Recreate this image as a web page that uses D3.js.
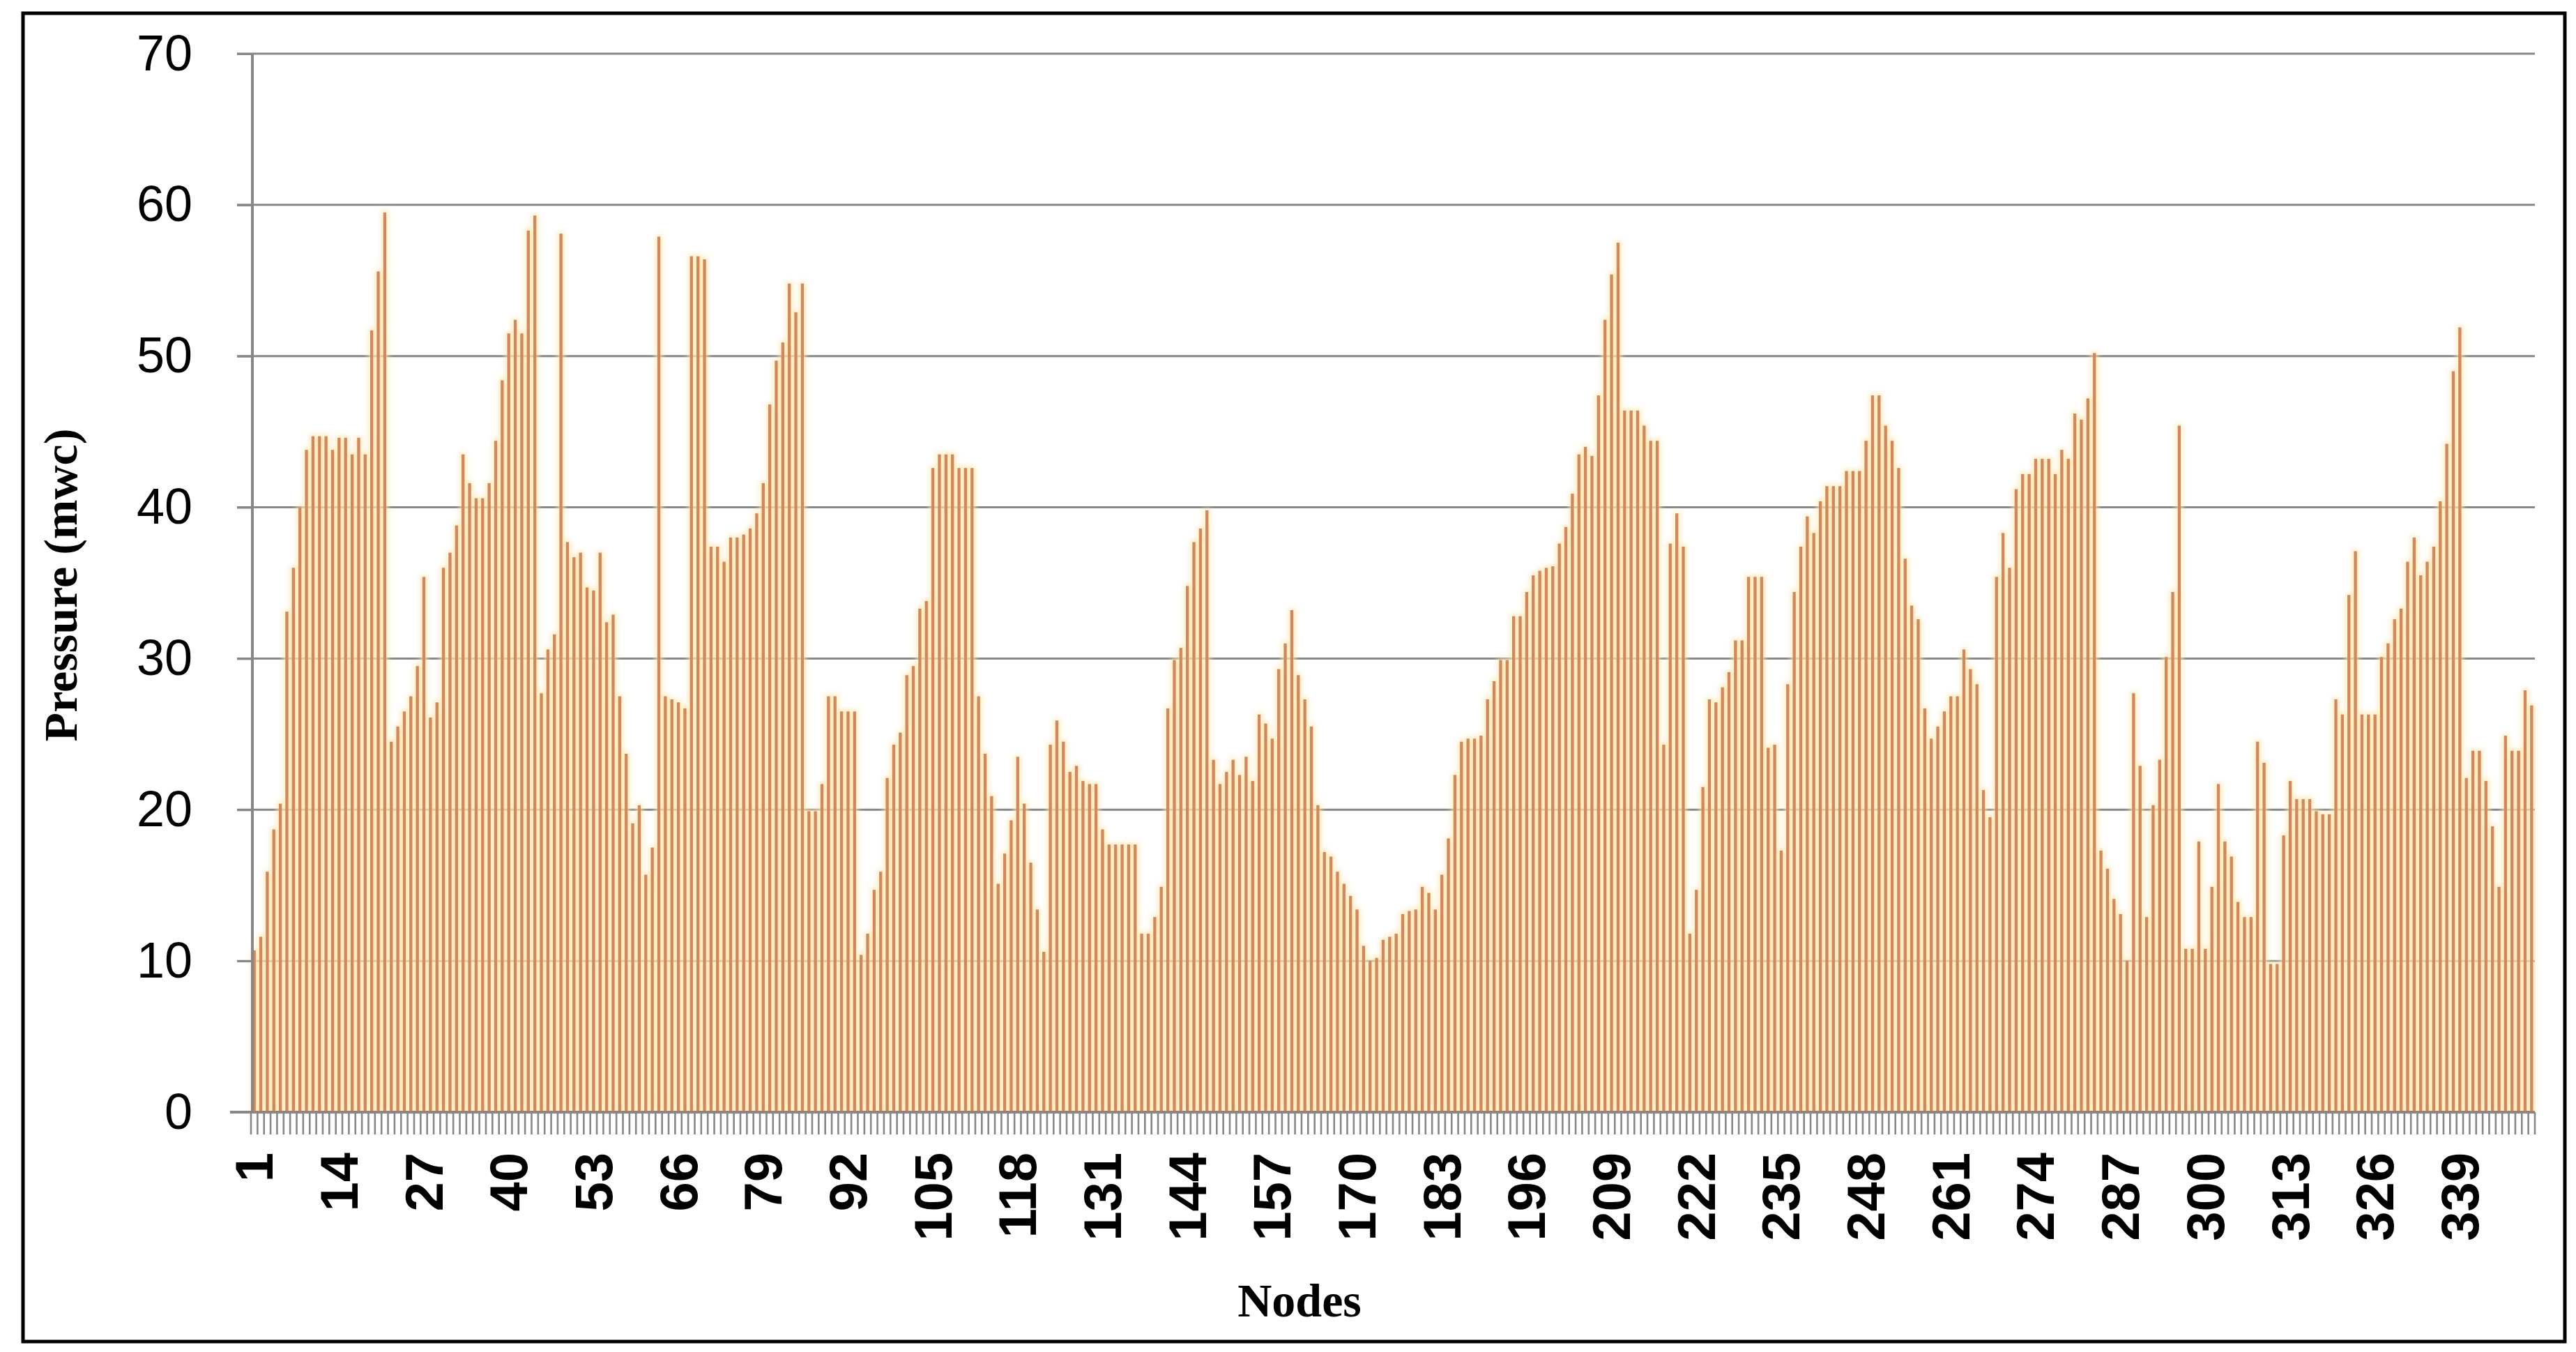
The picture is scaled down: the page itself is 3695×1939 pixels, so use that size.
<!DOCTYPE html>
<html>
<head>
<meta charset="utf-8">
<script src="https://cdn.jsdelivr.net/npm/d3@7"></script>
<style>
  html, body { margin: 0; padding: 0; background: #ffffff; }
  svg { display: block; }
</style>
</head>
<body>
<script>
// ---------- DATA ----------
const nodes = d3.range(1, 351);   // node numbers 1..350
const pressure = [
  10.7, 11.6, 15.9, 18.7, 20.4, 33.1, 36.0, 40.0, 43.8, 44.7,
  44.7, 44.7, 43.8, 44.6, 44.6, 43.5, 44.6, 43.5, 51.7, 55.6,
  59.5, 24.5, 25.5, 26.5, 27.5, 29.5, 35.4, 26.1, 27.1, 36.0,
  37.0, 38.8, 43.5, 41.6, 40.6, 40.6, 41.6, 44.4, 48.4, 51.5,
  52.4, 51.5, 58.3, 59.3, 27.7, 30.6, 31.6, 58.1, 37.7, 36.7,
  37.0, 34.7, 34.5, 37.0, 32.4, 32.9, 27.5, 23.7, 19.1, 20.3,
  15.7, 17.5, 57.9, 27.5, 27.3, 27.1, 26.7, 56.6, 56.6, 56.4,
  37.4, 37.4, 36.4, 38.0, 38.0, 38.2, 38.6, 39.6, 41.6, 46.8,
  49.7, 50.9, 54.8, 52.9, 54.8, 19.9, 19.9, 21.7, 27.5, 27.5,
  26.5, 26.5, 26.5, 10.4, 11.8, 14.7, 15.9, 22.1, 24.3, 25.1,
  28.9, 29.5, 33.3, 33.8, 42.6, 43.5, 43.5, 43.5, 42.6, 42.6,
  42.6, 27.5, 23.7, 20.9, 15.1, 17.1, 19.3, 23.5, 20.4, 16.5,
  13.4, 10.6, 24.3, 25.9, 24.5, 22.5, 22.9, 21.9, 21.7, 21.7,
  18.7, 17.7, 17.7, 17.7, 17.7, 17.7, 11.8, 11.8, 12.9, 14.9,
  26.7, 29.9, 30.7, 34.8, 37.7, 38.6, 39.8, 23.3, 21.7, 22.5,
  23.3, 22.3, 23.5, 21.9, 26.3, 25.7, 24.7, 29.3, 31.0, 33.2,
  28.9, 27.3, 25.5, 20.3, 17.2, 16.9, 15.9, 15.1, 14.3, 13.4,
  11.0, 10.0, 10.2, 11.4, 11.6, 11.8, 13.1, 13.3, 13.4, 14.9,
  14.5, 13.4, 15.7, 18.1, 22.3, 24.5, 24.7, 24.7, 24.9, 27.3,
  28.5, 29.9, 29.9, 32.8, 32.8, 34.4, 35.5, 35.8, 36.0, 36.1,
  37.6, 38.7, 40.9, 43.5, 44.0, 43.4, 47.4, 52.4, 55.4, 57.5,
  46.4, 46.4, 46.4, 45.4, 44.4, 44.4, 24.3, 37.6, 39.6, 37.4,
  11.8, 14.7, 21.5, 27.3, 27.1, 28.1, 29.1, 31.2, 31.2, 35.4,
  35.4, 35.4, 24.1, 24.3, 17.3, 28.3, 34.4, 37.4, 39.4, 38.3,
  40.4, 41.4, 41.4, 41.4, 42.4, 42.4, 42.4, 44.4, 47.4, 47.4,
  45.4, 44.4, 42.6, 36.6, 33.5, 32.6, 26.7, 24.7, 25.5, 26.5,
  27.5, 27.5, 30.6, 29.3, 28.3, 21.3, 19.5, 35.4, 38.3, 36.0,
  41.2, 42.2, 42.2, 43.2, 43.2, 43.2, 42.2, 43.8, 43.2, 46.2,
  45.8, 47.2, 50.2, 17.3, 16.1, 14.1, 13.1, 10.0, 27.7, 22.9,
  12.9, 20.3, 23.3, 30.1, 34.4, 45.4, 10.8, 10.8, 17.9, 10.8,
  14.9, 21.7, 17.9, 16.9, 13.9, 12.9, 12.9, 24.5, 23.1, 9.8,
  9.8, 18.3, 21.9, 20.7, 20.7, 20.7, 19.9, 19.7, 19.7, 27.3,
  26.3, 34.2, 37.1, 26.3, 26.3, 26.3, 30.1, 31.0, 32.6, 33.3,
  36.4, 38.0, 35.5, 36.4, 37.4, 40.4, 44.2, 49.0, 51.9, 22.1,
  23.9, 23.9, 21.9, 18.9, 14.9, 24.9, 23.9, 23.9, 27.9, 26.9
];
const xTickLabels = ["1","14","27","40","53","66","79","92","105","118","131","144","157","170",
  "183","196","209","222","235","248","261","274","287","300","313","326","339"];
const yTicks = [0, 10, 20, 30, 40, 50, 60, 70];
const yTitle = "Pressure (mwc)";
const xTitle = "Nodes";

// ---------- LAYOUT ----------
const W = 3695, H = 1939;
const plot = { left: 360, right: 3636, top: 77, bottom: 1595 };
const gridColor = "#878787";
const barColor = "#D4875A";

const svg = d3.select("body").append("svg")
  .attr("width", W).attr("height", H)
  .attr("viewBox", `0 0 ${W} ${H}`);

svg.append("rect").attr("x", 0).attr("y", 0).attr("width", W).attr("height", H).attr("fill", "#fff");

// glow filter
const defs = svg.append("defs");
const f = defs.append("filter").attr("id", "glow")
  .attr("x", "-50%").attr("y", "-5%").attr("width", "200%").attr("height", "110%");
f.append("feGaussianBlur").attr("stdDeviation", 3.5);

const x = d3.scaleBand()
  .domain(nodes.map(String))
  .range([plot.left, plot.right])
  .paddingInner(0.54)
  .paddingOuter(0.27);

const y = d3.scaleLinear().domain([0, 70]).range([plot.bottom, plot.top]);

// grid lines + y ticks (extend left of the axis)
const yAxis = d3.axisLeft(y).tickValues(yTicks)
  .tickSize(-(plot.right - plot.left) - 20)
  .tickFormat(d3.format("d"))
  .tickPadding(64);

const gy = svg.append("g")
  .attr("transform", `translate(${plot.right},0)`);
// draw grid lines manually using scale
svg.append("g").attr("class", "grid")
  .selectAll("line").data(yTicks.filter(d => d > 0)).join("line")
  .attr("x1", plot.left - 20).attr("x2", plot.right)
  .attr("y1", d => y(d)).attr("y2", d => y(d))
  .attr("stroke", gridColor).attr("stroke-width", 3);

// glow behind bars
svg.append("g").attr("filter", "url(#glow)").attr("opacity", 0.75)
  .selectAll("rect").data(pressure).join("rect")
  .attr("x", (d, i) => x(String(nodes[i])) - 3)
  .attr("width", x.bandwidth() + 6)
  .attr("y", d => y(d) - 3)
  .attr("height", d => plot.bottom - y(d) + 3)
  .attr("fill", "#FFE7AE");

// bars
svg.append("g").attr("class", "bars")
  .selectAll("rect").data(pressure).join("rect")
  .attr("x", (d, i) => x(String(nodes[i])))
  .attr("width", x.bandwidth())
  .attr("y", d => y(d))
  .attr("height", d => plot.bottom - y(d))
  .attr("fill", barColor);

// y axis with labels
const ya = svg.append("g").attr("transform", `translate(${plot.left + 2},0)`)
  .call(d3.axisLeft(y).tickValues(yTicks).tickSize(22).tickPadding(64).tickFormat(d3.format("d")));
ya.select(".domain").attr("stroke", gridColor).attr("stroke-width", 4)
  .attr("d", `M0,${plot.top}V${plot.bottom}`);
ya.selectAll(".tick line").attr("stroke", gridColor).attr("stroke-width", 3);
ya.selectAll(".tick text")
  .attr("font-family", "'Liberation Sans', Arial, sans-serif")
  .attr("font-size", 72).attr("fill", "#000");

// x axis: ticks at category boundaries
const boundaries = d3.range(0, nodes.length + 1).map(i => plot.left + i * x.step());
const gx = svg.append("g");
gx.append("line").attr("x1", plot.left - 30).attr("x2", plot.right)
  .attr("y1", plot.bottom).attr("y2", plot.bottom)
  .attr("stroke", gridColor).attr("stroke-width", 4);
gx.selectAll("line.tk").data(boundaries).join("line").attr("class", "tk")
  .attr("x1", d => d).attr("x2", d => d)
  .attr("y1", plot.bottom).attr("y2", plot.bottom + 32)
  .attr("stroke", gridColor).attr("stroke-width", 2.6);

// x tick labels (rotated)
gx.selectAll("text").data(xTickLabels).join("text")
  .attr("transform", d => `translate(${x(d) + x.bandwidth() / 2},${plot.bottom + 58}) rotate(-90)`)
  .attr("text-anchor", "end")
  .attr("dominant-baseline", "central")
  .attr("font-family", "'Liberation Sans', Arial, sans-serif")
  .attr("font-weight", "bold")
  .attr("font-size", 76)
  .attr("fill", "#000")
  .text(d => d);

// axis titles
svg.append("text")
  .attr("transform", `translate(87,${(plot.top + plot.bottom) / 2 + 3}) rotate(-90)`)
  .attr("text-anchor", "middle").attr("dominant-baseline", "central")
  .attr("font-family", "'Liberation Serif', 'Times New Roman', serif")
  .attr("font-weight", "bold").attr("font-size", 68)
  .text(yTitle);

svg.append("text")
  .attr("x", 1864).attr("y", 1888)
  .attr("text-anchor", "middle")
  .attr("font-family", "'Liberation Serif', 'Times New Roman', serif")
  .attr("font-weight", "bold").attr("font-size", 68)
  .text(xTitle);

// outer border
svg.append("rect").attr("x", 33).attr("y", 19)
  .attr("width", 3679 - 33).attr("height", 1924 - 19)
  .attr("fill", "none").attr("stroke", "#000").attr("stroke-width", 5);
</script>
</body>
</html>
